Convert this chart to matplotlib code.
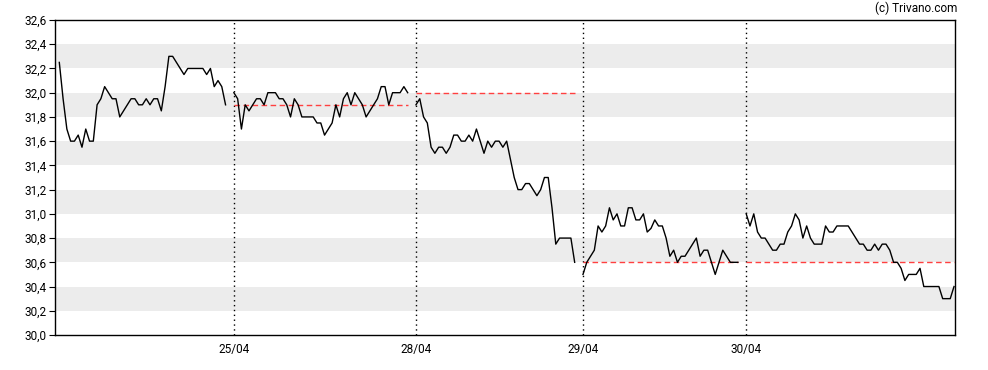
import numpy as np
from matplotlib import pyplot as plt

plt.rcParams['font.family'] = ['Roboto', 'DejaVu Sans']

# prices per trading day
day1 = [32.25, 31.95, 31.7, 31.6, 31.6, 31.65, 31.55, 31.7, 31.6, 31.6, 31.9, 31.95,
        32.05, 32.0, 31.95, 31.95, 31.8, 31.85, 31.9, 31.95, 31.95, 31.9, 31.9, 31.95,
        31.9, 31.95, 31.95, 31.85, 32.05, 32.3, 32.3, 32.25, 32.2, 32.15, 32.2, 32.2,
        32.2, 32.2, 32.2, 32.15, 32.2, 32.05, 32.1, 32.05, 31.9]
day2 = [32.0, 31.95, 31.7, 31.9, 31.85, 31.9, 31.95, 31.95, 31.9, 32.0, 32.0, 32.0,
        31.95, 31.95, 31.9, 31.8, 31.95, 31.9, 31.8, 31.8, 31.8, 31.8, 31.75, 31.75,
        31.65, 31.7, 31.75, 31.9, 31.8, 31.95, 32.0, 31.9, 32.0, 31.95, 31.9, 31.8,
        31.85, 31.9, 31.95, 32.05, 32.05, 31.9, 32.0, 32.0, 32.0, 32.05, 32.0]
day3 = [31.9, 31.95, 31.8, 31.75, 31.55, 31.5, 31.55, 31.55, 31.5, 31.55, 31.65, 31.65,
        31.6, 31.6, 31.65, 31.6, 31.7, 31.6, 31.5, 31.6, 31.55, 31.6, 31.6, 31.55,
        31.6, 31.45, 31.3, 31.2, 31.2, 31.25, 31.25, 31.2, 31.15, 31.2, 31.3, 31.3,
        31.05, 30.75, 30.8, 30.8, 30.8, 30.8, 30.6]
day4 = [30.5, 30.6, 30.65, 30.7, 30.9, 30.85, 30.9, 31.05, 30.95, 31.0, 30.9, 30.9,
        31.05, 31.05, 30.95, 30.95, 31.0, 30.85, 30.88, 30.95, 30.9, 30.9, 30.8, 30.65,
        30.7, 30.6, 30.65, 30.65, 30.7, 30.75, 30.8, 30.65, 30.7, 30.7, 30.6, 30.5,
        30.6, 30.7, 30.65, 30.6, 30.6, 30.6]
day5 = [31.0, 30.9, 31.0, 30.85, 30.8, 30.8, 30.75, 30.7, 30.7, 30.75, 30.75, 30.85,
        30.9, 31.0, 30.95, 30.8, 30.9, 30.8, 30.75, 30.75, 30.75, 30.9, 30.85, 30.85,
        30.9, 30.9, 30.9, 30.9, 30.85, 30.8, 30.75, 30.75, 30.7, 30.7, 30.75, 30.7,
        30.75, 30.75, 30.7, 30.6, 30.6, 30.55, 30.45, 30.5, 30.5, 30.5, 30.55, 30.4,
        30.4, 30.4, 30.4, 30.4, 30.3, 30.3, 30.3, 30.4]
days = [day1, day2, day3, day4, day5]
day_labels = ['', '25/04', '28/04', '29/04', '30/04']
prev_close = [None, 31.9, 32.0, 30.6, 30.6]

fig = plt.figure(figsize=(9.88, 3.70), dpi=100)
ax = fig.add_axes([55/988, 1-335/370, 900/988, 315/370])

# grey bands
for lo in np.arange(30.2, 32.4, 0.4):
    ax.axhspan(lo, lo+0.2, color='#ececec', lw=0, zorder=0)

gap = 2.2
start = 1.14
starts = []
for i, d in enumerate(days):
    x = start + np.arange(len(d))
    starts.append(start)
    ax.plot(x, d, color='black', lw=1, zorder=3)
    if prev_close[i] is not None:
        ax.plot([x[0], x[-1]], [prev_close[i], prev_close[i]], color='#ff4040',
                lw=1, dashes=(4, 2.5), zorder=2)
        ax.axvline(start, color='black', lw=1, linestyle=(0, (1, 2.5)), zorder=1)
    start = x[-1] + gap

ax.set_xlim(0, 238.2)
ax.set_ylim(30.0, 32.6)
ax.set_xticks(starts[1:])
ax.set_xticklabels(day_labels[1:])
ax.tick_params(axis='x', length=0, pad=6, labelsize=8.5)
yt = np.arange(30.0, 32.61, 0.2)
ax.set_yticks(yt)
ax.set_yticklabels([('%.1f' % v).replace('.', ',') for v in yt])
ax.tick_params(axis='y', length=4, pad=2, labelsize=8.5)
for s in ax.spines.values():
    s.set_linewidth(1)

fig.text(957/988, 1-8/370, '(c) Trivano.com', ha='right', va='center', fontsize=8.5)

plt.savefig('out.png', dpi=100)
